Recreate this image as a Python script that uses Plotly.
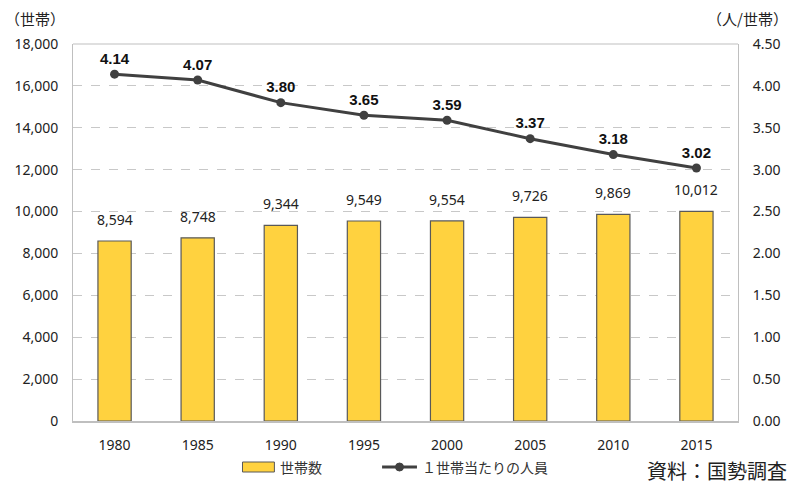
import plotly.graph_objects as go

years = ["1980", "1985", "1990", "1995", "2000", "2005", "2010", "2015"]
households = [8594, 8748, 9344, 9549, 9554, 9726, 9869, 10012]
persons = [4.14, 4.07, 3.80, 3.65, 3.59, 3.37, 3.18, 3.02]
left_ticks = [0, 2000, 4000, 6000, 8000, 10000, 12000, 14000, 16000, 18000]
right_ticks = [0, 0.5, 1.0, 1.5, 2.0, 2.5, 3.0, 3.5, 4.0, 4.5]

FONT = "Noto Sans, Noto Sans CJK JP, sans-serif"
CJK = "Noto Sans CJK JP, sans-serif"
BAR_COLOR = "#FFD23F"
BAR_EDGE = "#595959"
LINE_COLOR = "#404040"

W, H = 793, 484
ML, MR, MT, MB = 73, 53, 44, 63
PW, PH = W - ML - MR, H - MT - MB


def px(x):
    return (x - ML) / PW


def py(y):
    return (H - MB - y) / PH


fig = go.Figure()
fig.add_trace(go.Bar(
    x=years, y=households, name="世帯数",
    marker=dict(color=BAR_COLOR, line=dict(color=BAR_EDGE, width=1.2)),
    width=0.4,
))
# bar value labels (category index positions)
for i, v in enumerate(households):
    fig.add_annotation(x=i, y=v, xref="x", yref="y", text=f"{v:,}", showarrow=False,
                       xanchor="center", yanchor="bottom", yshift=10,
                       font=dict(size=14, color="#222222", family=FONT))

fig.add_trace(go.Scatter(
    x=years, y=persons, name="１世帯当たりの人員", yaxis="y2",
    mode="lines+markers+text",
    line=dict(color=LINE_COLOR, width=3),
    marker=dict(size=9, color=LINE_COLOR),
    text=[f"{v:.2f}" for v in persons], textposition="top center",
    textfont=dict(size=15, color="#111111", family="Liberation Sans, Arial, sans-serif"),
    texttemplate="<b>%{text}</b>", cliponaxis=False,
))

fig.update_layout(
    width=W, height=H,
    margin=dict(l=ML, r=MR, t=MT, b=MB),
    plot_bgcolor="white", paper_bgcolor="white",
    font=dict(family=FONT, size=14, color="#222222"),
    showlegend=False,
    xaxis=dict(type="category", range=[-0.5, 7.5], showline=True, linecolor="#BFBFBF", linewidth=1.5,
               tickfont=dict(size=14, color="#222222"), showgrid=False,
               ticks="outside", ticklen=10, tickcolor="rgba(0,0,0,0)"),
    yaxis=dict(range=[0, 18000], tickvals=left_ticks, tickformat=",",
               showgrid=True, gridcolor="#C8C8C8", griddash="dash", gridwidth=1,
               showline=True, linecolor="#BFBFBF", linewidth=1,
               tickfont=dict(size=14, color="#222222"), zeroline=False,
               ticks="outside", ticklen=11, tickcolor="rgba(0,0,0,0)"),
    yaxis2=dict(range=[0, 4.5], tickvals=right_ticks, tickformat=".2f",
                overlaying="y", side="right", showgrid=False,
                showline=True, linecolor="#BFBFBF", linewidth=1,
                tickfont=dict(size=14, color="#222222"), zeroline=False,
                ticks="outside", ticklen=11, tickcolor="rgba(0,0,0,0)"),
)
# top border of plot area
fig.add_shape(type="line", xref="paper", yref="paper", x0=0, x1=1, y0=1, y1=1,
              line=dict(color="#BFBFBF", width=1))

# axis unit labels
fig.add_annotation(text="（世帯）", xref="paper", yref="paper", x=px(3), y=py(18),
                   xanchor="left", yanchor="middle", showarrow=False,
                   font=dict(size=15, color="#222222", family=CJK))
fig.add_annotation(text="（人/世帯）", xref="paper", yref="paper", x=px(792), y=py(18),
                   xanchor="right", yanchor="middle", showarrow=False,
                   font=dict(size=15, color="#222222", family=CJK))

# manual legend
LY = 467
fig.add_shape(type="rect", xref="paper", yref="paper",
              x0=px(243), x1=px(275), y0=py(472), y1=py(462),
              fillcolor=BAR_COLOR, line=dict(color=BAR_EDGE, width=1))
fig.add_annotation(text="世帯数", xref="paper", yref="paper", x=px(279), y=py(LY),
                   xanchor="left", yanchor="middle", showarrow=False,
                   font=dict(size=14, color="#333333", family=CJK))
fig.add_shape(type="line", xref="paper", yref="paper",
              x0=px(383), x1=px(418), y0=py(LY), y1=py(LY),
              line=dict(color=LINE_COLOR, width=3))
fig.add_shape(type="circle", xref="paper", yref="paper",
              x0=px(396.5), x1=px(404.5), y0=py(LY + 4), y1=py(LY - 4),
              fillcolor=LINE_COLOR, line=dict(color=LINE_COLOR, width=1))
fig.add_annotation(text="１世帯当たりの人員", xref="paper", yref="paper", x=px(421), y=py(LY),
                   xanchor="left", yanchor="middle", showarrow=False,
                   font=dict(size=14, color="#333333", family=CJK))

fig.add_annotation(text="資料：国勢調査", xref="paper", yref="paper", x=px(791), y=py(470),
                   xanchor="right", yanchor="middle", showarrow=False,
                   font=dict(size=20, color="#222222", family=CJK))

fig.write_html("out.html")
